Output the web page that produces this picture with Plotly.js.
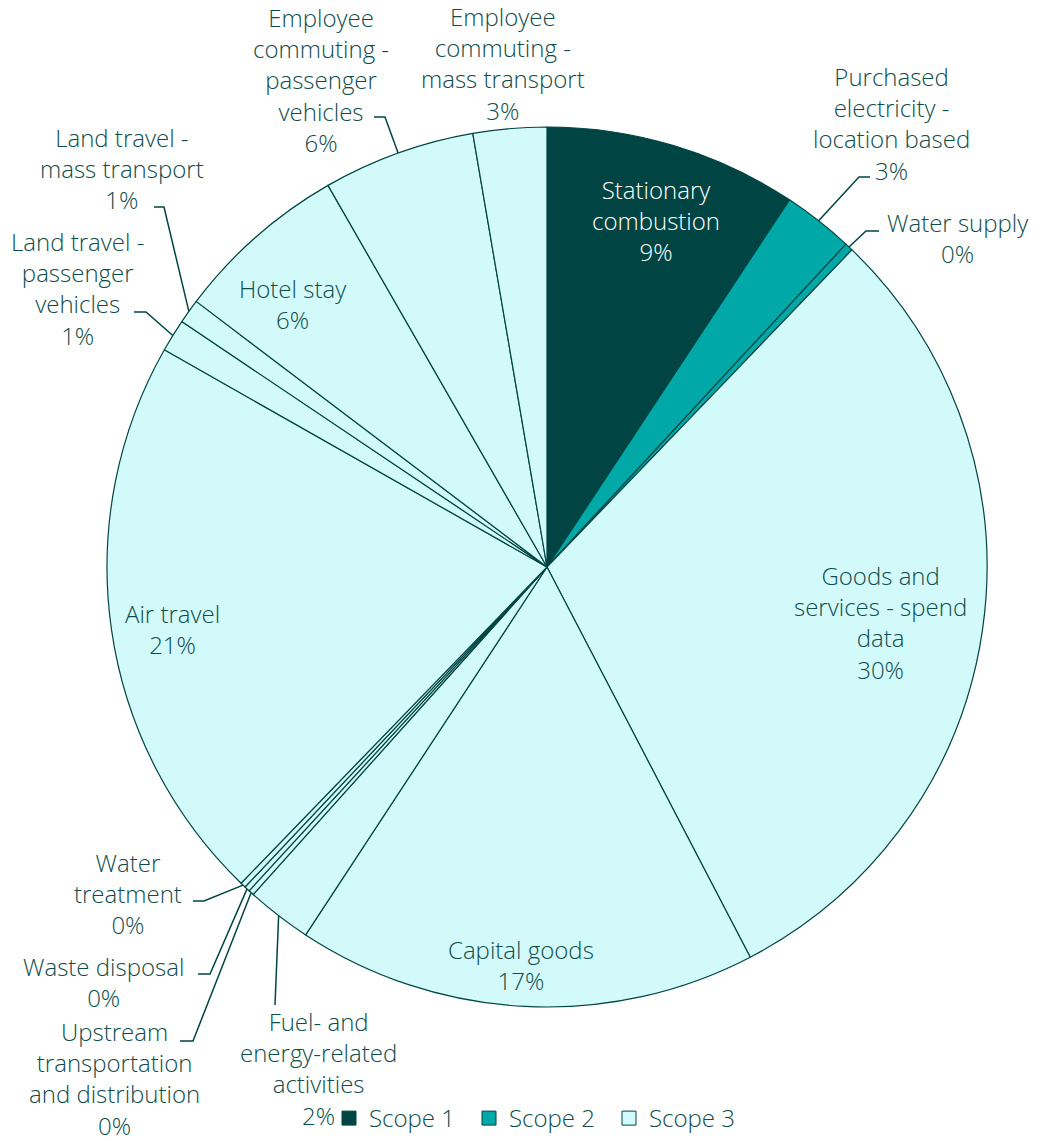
<!DOCTYPE html>
<html>
<head>
<meta charset="utf-8">
<script src="https://cdn.plot.ly/plotly-3.0.1.min.js"></script>
<style>html,body{margin:0;padding:0;background:#fff;}#chart{width:1041px;height:1141px;}</style>
</head>
<body>
<div id="chart"></div>
<script>
// ---------- data ----------
const categories = [
  "Stationary<br>combustion",
  "Purchased<br>electricity -<br>location based",
  "Water supply",
  "Goods and<br>services - spend<br>data",
  "Capital goods",
  "Fuel- and<br>energy-related<br>activities",
  "Upstream<br>transportation<br>and distribution",
  "Waste disposal",
  "Water<br>treatment",
  "Air travel",
  "Land travel -<br>passenger<br>vehicles",
  "Land travel -<br>mass transport",
  "Hotel stay",
  "Employee<br>commuting -<br>passenger<br>vehicles",
  "Employee<br>commuting -<br>mass transport"
];
const shares = [9.3, 2.6, 0.3, 30.2, 16.9, 2.4, 0.2, 0.2, 0.2, 21.0, 1.2, 0.9, 6.4, 5.6, 2.7];
const scopes = [1, 2, 2, 3, 3, 3, 3, 3, 3, 3, 3, 3, 3, 3, 3];
const scopeNames = ["Scope 1", "Scope 2", "Scope 3"];

// ---------- styles / layout positions ----------
const W = 1041, H = 1141;
const scopeColors = ["#004543", "#00a9a8", "#d3fafb"];
const txtColor = "#0e4d4b";
const fontFam = "'Open Sans', Lato, sans-serif";
const FS = 24;
const FW = 300;
const CX = 547, CY = 567, R = 440;   // pie centre / radius in px (layout)
// label centre positions in px, [x, y]
const labelPos = [
  [656, 220], [891, 124], [958, 238], [880, 622], [521, 965],
  [318, 1068], [114, 1078], [103, 982], [128, 893], [172, 629],
  [77, 288], [122, 168], [293, 304], [321, 80], [503, 63]
];
// leader lines: [slice index, elbow x, elbow y, end x, end y]
const leaders = [
  [1, 859, 177, 870, 177],
  [2, 866, 231, 879, 231],
  [13, 385, 117, 374, 117],
  [11, 164, 207, 154, 207],
  [10, 146, 312, 134, 312],
  [8, 204, 901, 193, 901],
  [7, 210, 974, 198, 974],
  [6, 193, 1041, 180, 1041],
  [5, 275, 1005, 275, 1005]
];

const total = shares.reduce((a, b) => a + b, 0);
const cum = [];
shares.reduce((acc, v, i) => { cum[i] = acc; return acc + v; }, 0);

const px = x => x / W, py = y => 1 - y / H;

const annotations = categories.map((c, i) => ({
  xref: "paper", yref: "paper",
  x: px(labelPos[i][0]), y: py(labelPos[i][1]),
  xanchor: "center", yanchor: "middle", align: "center",
  showarrow: false,
  text: c + "<br>" + Math.round(shares[i] / total * 100) + "%",
  font: {family: fontFam, size: FS, weight: FW, color: scopes[i] === 1 ? "#ffffff" : txtColor}
}));

const shapes = leaders.map(([i, ex, ey, tx, ty]) => {
  const a = (cum[i] + shares[i] / 2) / total * 2 * Math.PI;
  const sx = CX + R * Math.sin(a), sy = CY - R * Math.cos(a);
  return {
    type: "path", xref: "paper", yref: "paper",
    path: `M ${px(sx)} ${py(sy)} L ${px(ex)} ${py(ey)} L ${px(tx)} ${py(ty)}`,
    line: {color: "#004543", width: 1.5}
  };
});

const pie = {
  type: "pie",
  labels: categories,
  values: shares,
  sort: false,
  direction: "clockwise",
  rotation: 0,
  marker: {colors: scopes.map(s => scopeColors[s - 1]), line: {color: "#004543", width: 1.2}},
  textinfo: "none",
  hoverinfo: "label+percent",
  showlegend: false,
  domain: {x: [(CX - R) / W, (CX + R) / W], y: [1 - (CY + R) / H, 1 - (CY - R) / H]}
};

const legendTraces = scopeNames.map((n, i) => ({
  type: "scatter", mode: "markers", x: [null], y: [null], name: n,
  marker: {symbol: "square", size: 14, color: scopeColors[i], line: {color: "#004543", width: 1}},
  showlegend: true, hoverinfo: "skip"
}));

const layout = {
  width: W, height: H,
  margin: {l: 0, r: 0, t: 0, b: 0},
  paper_bgcolor: "#fff", plot_bgcolor: "#fff",
  font: {family: fontFam, color: txtColor, size: FS, weight: FW},
  xaxis: {visible: false}, yaxis: {visible: false},
  showlegend: true,
  legend: {orientation: "h", x: px(329), xanchor: "left", y: 0, yanchor: "bottom",
           font: {family: fontFam, size: FS, weight: FW, color: txtColor}, itemwidth: 30,
           entrywidth: 95, entrywidthmode: "pixels", bgcolor: "rgba(0,0,0,0)"},
  annotations: annotations,
  shapes: shapes
};

Plotly.newPlot("chart", [pie, ...legendTraces], layout, {displayModeBar: false, responsive: false});
</script>
</body>
</html>
